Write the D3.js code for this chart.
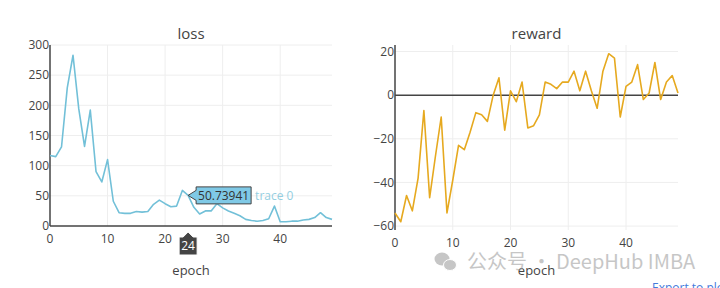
<!DOCTYPE html>
<html>
<head>
<meta charset="utf-8">
<script src="https://cdn.jsdelivr.net/npm/d3@7"></script>
<style>
  body { margin: 0; background: #fff; }
  svg { display: block; font-family: "Open Sans", verdana, arial, sans-serif; }
</style>
</head>
<body>
<svg id="chart" width="720" height="288"></svg>
<script>
// epochs 0..49
var epochs = d3.range(0, 50);
var loss = [117,115,131,229,283,194,132,192,90,73,110,41,22,21,21,24,23,24,36,43,
            37,32,33,59,50.73941,31,20,25,25,37,30,25,21,17,11,9,8,9,12,33,
            7,7,8,8,10,11,14,22,14,11];
var reward = [-54,-58,-46,-53,-38,-7,-47,-28,-10,-54,-39,-23,-25,-17,-8,-9,-12,0,8,-16,
              2,-3,6,-15,-14,-9,6,5,3,6,6,11,2,11,2,-6,11,19,17,-10,
              4,6,14,-2,1,15,-2,6,9,1];
var xTicks = [0, 10, 20, 30, 40];
var lossTicks = [0, 50, 100, 150, 200, 250, 300];
var rewardTicks = [-60, -40, -20, 0, 20];
var hoverIdx = 24;

var svg = d3.select("#chart");

function drawPanel(opt) {
  var x = d3.scaleLinear().domain([0, 49]).range([opt.left, opt.right]);
  var y = d3.scaleLinear().domain(opt.ydom).range([opt.bottom, opt.top]);
  var g = svg.append("g");

  // grid
  g.selectAll(".vg").data(xTicks.filter(function(d){ return d != 0; }))
    .enter().append("line")
    .attr("x1", function(d){ return x(d); }).attr("x2", function(d){ return x(d); })
    .attr("y1", opt.top).attr("y2", opt.bottom)
    .attr("stroke", "#eee").attr("stroke-width", 1);
  g.selectAll(".hg").data(opt.yticks.filter(function(d){ return d != 0; }))
    .enter().append("line")
    .attr("x1", opt.left).attr("x2", opt.right)
    .attr("y1", function(d){ return y(d); }).attr("y2", function(d){ return y(d); })
    .attr("stroke", "#eee").attr("stroke-width", 1);

  // zero lines
  g.append("line")
    .attr("x1", opt.left).attr("x2", opt.right)
    .attr("y1", y(0)).attr("y2", y(0))
    .attr("stroke", "#444").attr("stroke-width", 1.5);
  g.append("line")
    .attr("x1", x(0)).attr("x2", x(0))
    .attr("y1", opt.top).attr("y2", opt.bottom)
    .attr("stroke", "#444").attr("stroke-width", 1.5);

  // tick labels
  g.selectAll(".xt").data(xTicks).enter().append("text")
    .attr("x", function(d){ return x(d); })
    .attr("y", opt.bottom + 17)
    .attr("text-anchor", "middle")
    .attr("font-size", "12px").attr("fill", "#444")
    .text(function(d){ return d; });
  g.selectAll(".yt").data(opt.yticks).enter().append("text")
    .attr("x", opt.left - 1)
    .attr("y", function(d){ return y(d); })
    .attr("dy", "0.35em")
    .attr("text-anchor", "end")
    .attr("font-size", "12px").attr("fill", "#444")
    .text(function(d){ return d < 0 ? "\u2212" + Math.abs(d) : d; });

  // line
  var line = d3.line()
    .x(function(d, i){ return x(epochs[i]); })
    .y(function(d){ return y(d); });
  g.append("path")
    .datum(opt.data)
    .attr("fill", "none")
    .attr("stroke", opt.color)
    .attr("stroke-width", 1.6)
    .attr("stroke-linejoin", "round")
    .attr("d", line);

  // titles
  var cx = (opt.left + opt.right) / 2;
  g.append("text").attr("x", cx).attr("y", 39)
    .attr("text-anchor", "middle").attr("font-size", "15px").attr("fill", "#444")
    .text(opt.title);
  g.append("text").attr("x", cx).attr("y", 275)
    .attr("text-anchor", "middle").attr("font-size", "13px").attr("fill", "#444")
    .text("epoch");

  return {x: x, y: y, g: g};
}

var lp = drawPanel({left: 50, right: 332, top: 45, bottom: 226, ydom: [0, 300],
  yticks: lossTicks, data: loss, color: "#72c0d8", title: "loss"});

var rp = drawPanel({left: 395, right: 678, top: 45, bottom: 230, ydom: [-61.8, 23],
  yticks: rewardTicks, data: reward, color: "#e6a91f", title: "reward"});

// hover labels on loss panel
var hx = lp.x(hoverIdx), hy = lp.y(loss[hoverIdx]);
var hover = svg.append("g");
var bx = hx + 3, bw = 55, bh = 15;
hover.append("path")
  .attr("d", "M" + hx + "," + hy + " L" + (bx + 5) + "," + (hy - 5) + " L" + (bx + 5) + "," + (hy - bh / 2 - 1) +
             " L" + (bx + 5 + bw) + "," + (hy - bh / 2 - 1) + " L" + (bx + 5 + bw) + "," + (hy + bh / 2 + 1) +
             " L" + (bx + 5) + "," + (hy + bh / 2 + 1) + " L" + (bx + 5) + "," + (hy + 5) + " Z")
  .attr("fill", "#7fc9e6").attr("stroke", "#444").attr("stroke-width", 1);
hover.append("text")
  .attr("x", bx + 5 + bw / 2).attr("y", hy).attr("dy", "0.36em")
  .attr("text-anchor", "middle").attr("font-size", "12px").attr("fill", "#333")
  .text(loss[hoverIdx].toFixed(5));
hover.append("text")
  .attr("x", bx + bw + 9).attr("y", hy).attr("dy", "0.36em")
  .attr("font-size", "12px").attr("fill", "#72c0d8").attr("opacity", 0.75)
  .text("trace 0");

var ax = lp.x(hoverIdx), ay = 232;
hover.append("path")
  .attr("d", "M" + ax + "," + ay + " L" + (ax + 5) + "," + (ay + 5) + " L" + (ax + 9) + "," + (ay + 5) +
             " L" + (ax + 9) + "," + (ay + 23) + " L" + (ax - 9) + "," + (ay + 23) + " L" + (ax - 9) + "," + (ay + 5) +
             " L" + (ax - 5) + "," + (ay + 5) + " Z")
  .attr("fill", "#444").attr("stroke", "#fff").attr("stroke-width", 1);
hover.append("text")
  .attr("x", ax).attr("y", ay + 14).attr("dy", "0.36em")
  .attr("text-anchor", "middle").attr("font-size", "12px").attr("fill", "#fff")
  .text(hoverIdx);

// export link
svg.append("text").attr("x", 652).attr("y", 292)
  .attr("font-size", "12px").attr("fill", "#447adb")
  .text("Export to plot.ly \u00bb");

// watermark
var wm = svg.append("g").attr("opacity", 0.55);
wm.append("ellipse").attr("cx", 442).attr("cy", 259).attr("rx", 7.5).attr("ry", 6.5).attr("fill", "#999");
wm.append("ellipse").attr("cx", 450).attr("cy", 265).attr("rx", 6.5).attr("ry", 5.5).attr("fill", "#999")
  .attr("stroke", "#fff").attr("stroke-width", 1);
wm.append("text").attr("x", 467).attr("y", 269)
  .attr("font-family", "'Noto Sans CJK SC', 'Noto Sans', sans-serif")
  .attr("font-size", "20px").attr("fill", "#999")
  .text("公众号 · DeepHub IMBA");
</script>
</body>
</html>
